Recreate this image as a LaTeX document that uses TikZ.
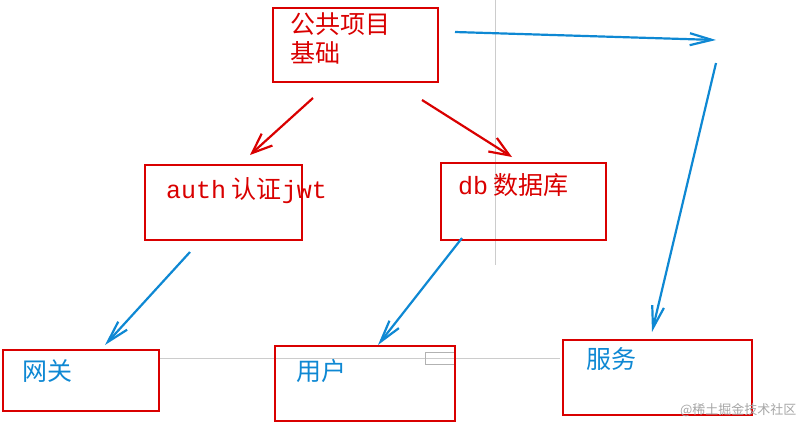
\documentclass[tikz,border=0pt]{standalone}
\usepackage{fontspec}
\setmainfont{Noto Sans CJK SC}
\newfontfamily\monof{Liberation Mono}
\usetikzlibrary{arrows.meta}
\begin{document}
\begin{tikzpicture}[x=1pt,y=-1pt,
  rbox/.style={draw=red!85!black,line width=2pt},
  rtxt/.style={text=red!85!black,font=\fontsize{25}{29}\selectfont,anchor=north west,inner sep=0pt,align=left},
  btxt/.style={text=cyan!70!blue,font=\fontsize{25}{29}\selectfont,anchor=north west,inner sep=0pt},
  rarr/.style={draw=red!85!black,line width=2.2pt,-{Straight Barb[length=20pt,width=16pt]}},
  barr/.style={draw=cyan!70!blue,line width=2.2pt,-{Straight Barb[length=22pt,width=12pt]}}]
\useasboundingbox (0,0) rectangle (805,424);
\draw[gray!40] (495,0) -- (495,265);
\draw[gray!40] (160,358) -- (560,358);
\draw[gray!60] (425,352) rectangle (455,364);
\draw[rbox] (273,8) rectangle (438,82);
\node[rtxt] (p) at (290,13) {公共项目\\基础};
\draw[rbox] (145,165) rectangle (302,240);
\node[rtxt] (a) at (166,177) {{\monof auth} 认证{\monof jwt}};
\draw[rbox] (441,163) rectangle (606,240);
\node[rtxt] (d) at (458,173) {{\monof db} 数据库};
\draw[rbox] (3,350) rectangle (159,411);
\node[btxt] (g) at (22,359) {网关};
\draw[rbox] (275,346) rectangle (455,421);
\node[btxt] (u) at (296,359) {用户};
\draw[rbox] (563,340) rectangle (752,415);
\node[btxt] (s) at (586,347) {服务};
\coordinate (p1) at (313,98); \coordinate (a1) at (250,155);
\coordinate (p2) at (422,100); \coordinate (d1) at (512,157);
\coordinate (a2) at (190,252); \coordinate (g1) at (105,345);
\coordinate (d2) at (462,238); \coordinate (u1) at (378,345);
\coordinate (p3) at (455,32); \coordinate (t) at (716,40);
\coordinate (t2) at (716,63); \coordinate (s1) at (652,332);
\draw[rarr] (p1) -- (a1);
\draw[rarr] (p2) -- (d1);
\draw[barr] (a2) -- (g1);
\draw[barr] (d2) -- (u1);
\draw[barr] (p3) -- (t);
\draw[barr] (t2) -- (s1);
\node[text=gray!70,font=\fontsize{13}{14}\selectfont,anchor=south east] (w) at (800,420) {@稀土掘金技术社区};
\end{tikzpicture}
\end{document}
